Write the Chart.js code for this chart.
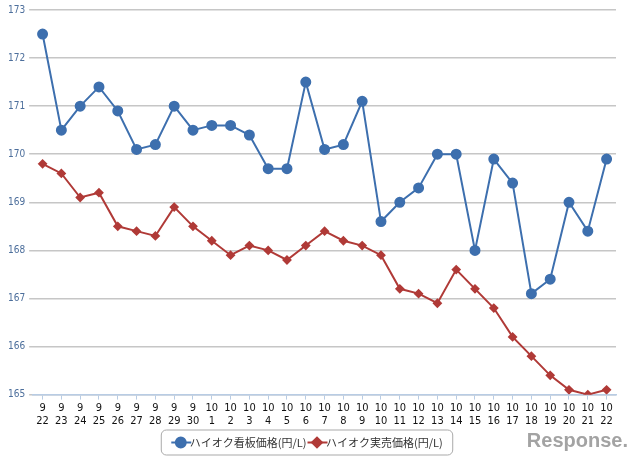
<!DOCTYPE html>
<html>
<head>
<meta charset="utf-8">
<script src="https://cdn.jsdelivr.net/npm/chart.js@4/dist/chart.umd.min.js"></script>
<style>
  html, body { margin: 0; padding: 0; background: #fff; }
  #wrap { width: 640px; height: 467px; position: relative; }
</style>
</head>
<body>
<div id="wrap"><canvas id="Chart" width="640" height="467"></canvas></div>
<script>
const months = [9, 9, 9, 9, 9, 9, 9, 9, 9,
  10, 10, 10, 10, 10, 10, 10, 10, 10, 10, 10, 10, 10, 10, 10, 10, 10, 10, 10, 10, 10, 10];
const days = [22, 23, 24, 25, 26, 27, 28, 29, 30,
  1, 2, 3, 4, 5, 6, 7, 8, 9, 10, 11, 12, 13, 14, 15, 16, 17, 18, 19, 20, 21, 22];

// ハイオク看板価格 (signboard price)
const signPrice = [172.5, 170.5, 171.0, 171.4, 170.9, 170.1, 170.2, 171.0, 170.5, 170.6,
  170.6, 170.4, 169.7, 169.7, 171.5, 170.1, 170.2, 171.1, 168.6, 169.0,
  169.3, 170.0, 170.0, 168.0, 169.9, 169.4, 167.1, 167.4, 169.0, 168.4, 169.9];

// ハイオク実売価格 (actual price)
const salePrice = [169.8, 169.6, 169.1, 169.2, 168.5, 168.4, 168.3, 168.9, 168.5, 168.2,
  167.9, 168.1, 168.0, 167.8, 168.1, 168.4, 168.2, 168.1, 167.9, 167.2,
  167.1, 166.9, 167.6, 167.2, 166.8, 166.2, 165.8, 165.4, 165.1, 165.0, 165.1];

const labels = months.map((m, i) => [String(m), String(days[i])]);

const narrow = "'Liberation Sans Narrow', 'DejaVu Sans Condensed', sans-serif";

// border round the legend items, little line through each legend marker, logo text
const extras = {
  id: "extras",
  beforeDraw(chart) {
    const ctx = chart.ctx;
    const boxes = chart.legend.legendHitBoxes;
    if (!boxes || !boxes.length) return;
    ctx.save();
    boxes.forEach((b, i) => {
      const cy = b.top + b.height / 2;
      const cx = b.left + 4;
      ctx.strokeStyle = chart.data.datasets[i].borderColor;
      ctx.lineWidth = 2;
      ctx.beginPath();
      ctx.moveTo(cx - 10, cy);
      ctx.lineTo(cx + 10, cy);
      ctx.stroke();
    });
    ctx.restore();
  },
  afterDraw(chart) {
    const ctx = chart.ctx;
    const boxes = chart.legend.legendHitBoxes;
    ctx.save();
    const left = Math.min(...boxes.map(b => b.left)) - 16;
    const right = Math.max(...boxes.map(b => b.left + b.width)) + 10;
    const top = Math.min(...boxes.map(b => b.top)) - 7;
    const bottom = Math.max(...boxes.map(b => b.top + b.height)) + 7;
    const x = left, y = top, w = right - left, h = bottom - top, r = 5;
    ctx.strokeStyle = "#a9a9a9";
    ctx.lineWidth = 1;
    ctx.beginPath();
    ctx.moveTo(x + r, y);
    ctx.arcTo(x + w, y, x + w, y + h, r);
    ctx.arcTo(x + w, y + h, x, y + h, r);
    ctx.arcTo(x, y + h, x, y, r);
    ctx.arcTo(x, y, x + w, y, r);
    ctx.closePath();
    ctx.stroke();

    ctx.fillStyle = "#a3a3a3";
    ctx.font = "bold 20px 'Liberation Sans', sans-serif";
    ctx.textAlign = "right";
    ctx.textBaseline = "middle";
    ctx.fillText("Response.", 628, 441);
    ctx.restore();
  }
};

const ctx = document.getElementById("Chart").getContext("2d");
new Chart(ctx, {
  type: "line",
  data: {
    labels: labels,
    datasets: [
      {
        label: "ハイオク看板価格(円/L)",
        data: signPrice,
        borderColor: "#3d6fae",
        backgroundColor: "#3d6fae",
        borderWidth: 2,
        pointStyle: "circle",
        pointRadius: 4.5,
        pointHoverRadius: 4.5,
        tension: 0,
      },
      {
        label: "ハイオク実売価格(円/L)",
        data: salePrice,
        borderColor: "#b03a37",
        backgroundColor: "#b03a37",
        borderWidth: 2,
        pointStyle: "rectRot",
        pointRadius: 3.5,
        pointHoverRadius: 3.5,
        tension: 0,
      },
    ],
  },
  options: {
    responsive: false,
    animation: false,
    layout: { padding: { left: 4, right: 24, top: 7, bottom: 9 } },
    plugins: {
      legend: {
        position: "bottom",
        labels: {
          usePointStyle: true,
          boxWidth: 7,
          boxHeight: 7,
          padding: 7,
          color: "#333",
          font: { size: 11, family: "'Noto Sans CJK JP', sans-serif" },
        },
      },
      tooltip: { enabled: false },
    },
    scales: {
      x: {
        offset: true,
        grid: {
          display: true,
          drawOnChartArea: false,
          tickLength: 5,
          color: "#b8cce4",
        },
        border: { display: true, color: "#b8cce4", width: 1.5 },
        ticks: {
          maxRotation: 0,
          autoSkip: false,
          color: "#111",
          padding: 2,
          font: { size: 11, family: narrow },
        },
      },
      y: {
        min: 165,
        max: 173,
        ticks: {
          stepSize: 1,
          color: "#4d6f9c",
          padding: 4,
          font: { size: 10, family: narrow },
        },
        grid: { color: "#c6c6c6", lineWidth: 1.5, tickLength: 4 },
        border: { display: false },
      },
    },
  },
  plugins: [extras],
});
</script>
</body>
</html>
